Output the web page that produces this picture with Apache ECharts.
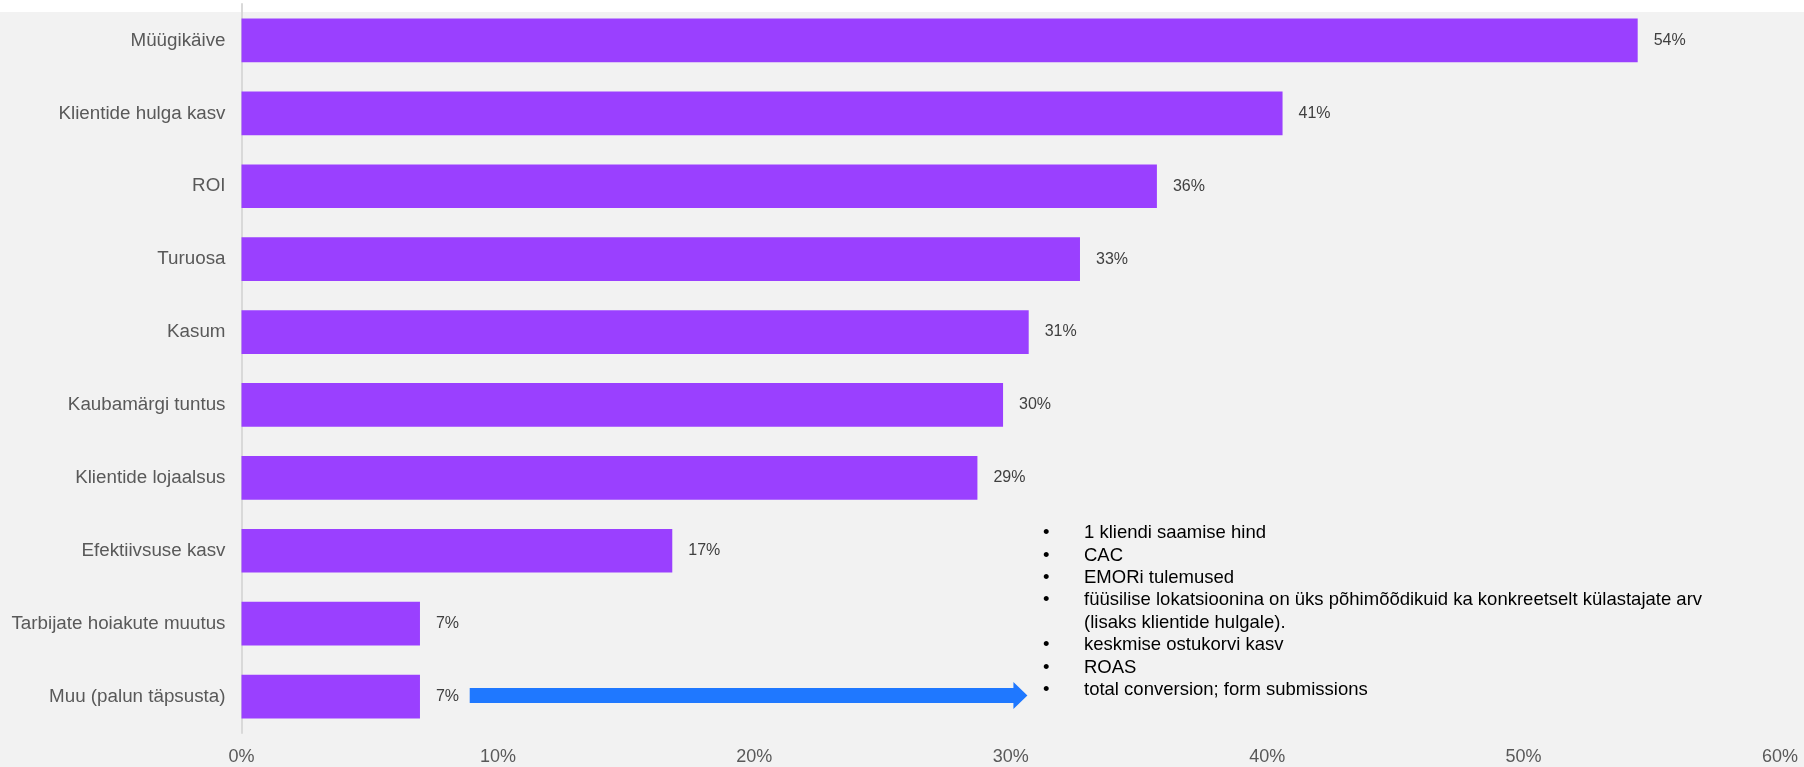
<!DOCTYPE html>
<html>
<head>
<meta charset="utf-8">
<script src="https://cdn.jsdelivr.net/npm/echarts@6/dist/echarts.min.js"></script>
<style>
  html, body { margin: 0; padding: 0; background: #f2f2f2; }
  #chart { width: 1804px; height: 767px; }
</style>
</head>
<body>
<div id="chart"></div>
<script>
// kategooriad ülevalt alla
var categories = [
  'Müügikäive',
  'Klientide hulga kasv',
  'ROI',
  'Turuosa',
  'Kasum',
  'Kaubamärgi tuntus',
  'Klientide lojaalsus',
  'Efektiivsuse kasv',
  'Tarbijate hoiakute muutus',
  'Muu (palun täpsusta)'
]
// osakaal, % (loetud pildilt)
var shares = [54.45, 40.6, 35.7, 32.7, 30.7, 29.7, 28.7, 16.8, 6.96, 6.96]
// nool "Muu" rea kõrval: algus, lõpp (x teljel), rida
var arrowData = [[8.9, 30.65, 9]]
// "Muu" vastused
var otherAnswers = [
  '1 kliendi saamise hind',
  'CAC',
  'EMORi tulemused',
  'füüsilise lokatsioonina on üks põhimõõdikuid ka konkreetselt külastajate arv',
  '(lisaks klientide hulgale).',
  'keskmise ostukorvi kasv',
  'ROAS',
  'total conversion; form submissions'
]
var bulletRows = [true, true, true, true, false, true, true, true]

var chart = echarts.init(document.getElementById('chart'))
var font = '"Liberation Sans", Arial, sans-serif'

var option = {
  backgroundColor: '#f2f2f2',
  animation: false,
  grid: { left: 241.5, right: 24, top: 4, bottom: 34 },
  xAxis: {
    type: 'value',
    min: 0,
    max: 60,
    interval: 10,
    axisLine: { show: false },
    axisTick: { show: false },
    splitLine: { show: false },
    axisLabel: {
      formatter: '{value}%',
      color: '#595959',
      fontSize: 18,
      fontFamily: font,
      margin: 15
    }
  },
  yAxis: {
    type: 'category',
    inverse: true,
    data: categories,
    axisLine: { lineStyle: { color: '#d9d9d9', width: 2 } },
    axisTick: { show: false },
    axisLabel: {
      color: '#595959',
      fontSize: 18.8,
      fontFamily: font,
      margin: 16
    }
  },
  graphic: [
    {
      type: 'rect',
      z: -10,
      shape: { x: 0, y: 0, width: 1804, height: 12 },
      style: { fill: '#ffffff' },
      silent: true
    },
    {
      type: 'text',
      left: 1043,
      top: 522,
      style: {
        text: bulletRows.map(function (b) { return b ? '•' : '' }).join('\n'),
        font: '18.5px ' + font,
        lineHeight: 22.4,
        fill: '#000000'
      }
    },
    {
      type: 'text',
      left: 1084,
      top: 522,
      style: {
        text: otherAnswers.join('\n'),
        font: '18.5px ' + font,
        lineHeight: 22.4,
        fill: '#000000'
      }
    }
  ],
  series: [
    {
      type: 'bar',
      data: shares,
      barCategoryGap: '40%',
      itemStyle: { color: '#9a40ff' },
      label: {
        show: true,
        position: 'right',
        distance: 16,
        color: '#404040',
        fontSize: 16,
        fontFamily: font,
        formatter: function (p) { return Math.round(p.value) + '%' }
      }
    },
    {
      type: 'custom',
      data: arrowData,
      z: 5,
      renderItem: function (params, api) {
        var s = api.coord([api.value(0), api.value(2)])
        var e = api.coord([api.value(1), api.value(2)])
        var y = s[1] - 1
        var hx = e[0] - 14
        return {
          type: 'polygon',
          shape: {
            points: [
              [s[0], y - 7.5], [hx, y - 7.5], [hx, y - 13.5], [e[0], y],
              [hx, y + 13.5], [hx, y + 7.5], [s[0], y + 7.5]
            ]
          },
          style: { fill: '#1f78ff' }
        }
      }
    }
  ]
}

chart.setOption(option)
</script>
</body>
</html>
